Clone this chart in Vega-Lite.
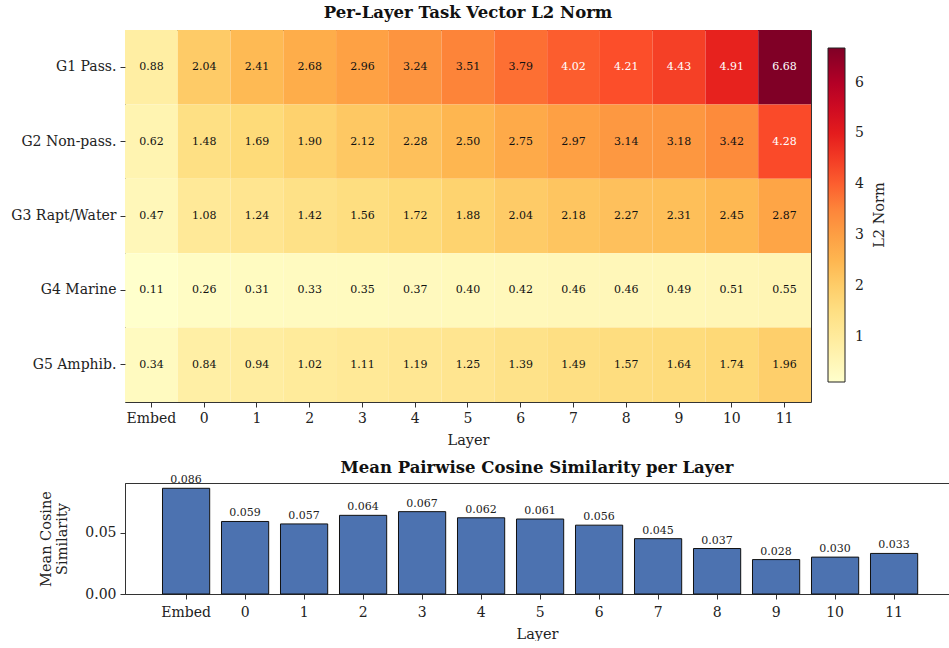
{
  "$schema": "https://vega.github.io/schema/vega-lite/v6.json",
  "autosize": {"type": "pad"},
  "padding": {"left": 10, "top": 4, "right": 0, "bottom": 0},
  "background": "white",
  "config": {
    "font": "DejaVu Serif",
    "view": {"stroke": "#333", "strokeWidth": 1},
    "axis": {
      "labelFont": "DejaVu Serif", "titleFont": "DejaVu Serif",
      "labelFontSize": 14, "titleFontSize": 14.5, "titleFontWeight": "normal",
      "labelColor": "#222", "titleColor": "#222",
      "tickColor": "#333", "domainColor": "#333",
      "tickSize": 5, "grid": false, "labelPadding": 4, "titlePadding": 5
    },
    "legend": {"labelFont": "DejaVu Serif", "titleFont": "DejaVu Serif"},
    "title": {"font": "DejaVu Serif", "fontSize": 16.5, "fontWeight": "bold", "color": "#111", "offset": 9},
    "concat": {"spacing": 12}
  },
  "datasets": {
    "heat": [
      {"group": "G1 Pass.", "layer": "Embed", "norm": 0.88},
      {"group": "G1 Pass.", "layer": "0", "norm": 2.04},
      {"group": "G1 Pass.", "layer": "1", "norm": 2.41},
      {"group": "G1 Pass.", "layer": "2", "norm": 2.68},
      {"group": "G1 Pass.", "layer": "3", "norm": 2.96},
      {"group": "G1 Pass.", "layer": "4", "norm": 3.24},
      {"group": "G1 Pass.", "layer": "5", "norm": 3.51},
      {"group": "G1 Pass.", "layer": "6", "norm": 3.79},
      {"group": "G1 Pass.", "layer": "7", "norm": 4.02},
      {"group": "G1 Pass.", "layer": "8", "norm": 4.21},
      {"group": "G1 Pass.", "layer": "9", "norm": 4.43},
      {"group": "G1 Pass.", "layer": "10", "norm": 4.91},
      {"group": "G1 Pass.", "layer": "11", "norm": 6.68},
      {"group": "G2 Non-pass.", "layer": "Embed", "norm": 0.62},
      {"group": "G2 Non-pass.", "layer": "0", "norm": 1.48},
      {"group": "G2 Non-pass.", "layer": "1", "norm": 1.69},
      {"group": "G2 Non-pass.", "layer": "2", "norm": 1.90},
      {"group": "G2 Non-pass.", "layer": "3", "norm": 2.12},
      {"group": "G2 Non-pass.", "layer": "4", "norm": 2.28},
      {"group": "G2 Non-pass.", "layer": "5", "norm": 2.50},
      {"group": "G2 Non-pass.", "layer": "6", "norm": 2.75},
      {"group": "G2 Non-pass.", "layer": "7", "norm": 2.97},
      {"group": "G2 Non-pass.", "layer": "8", "norm": 3.14},
      {"group": "G2 Non-pass.", "layer": "9", "norm": 3.18},
      {"group": "G2 Non-pass.", "layer": "10", "norm": 3.42},
      {"group": "G2 Non-pass.", "layer": "11", "norm": 4.28},
      {"group": "G3 Rapt/Water", "layer": "Embed", "norm": 0.47},
      {"group": "G3 Rapt/Water", "layer": "0", "norm": 1.08},
      {"group": "G3 Rapt/Water", "layer": "1", "norm": 1.24},
      {"group": "G3 Rapt/Water", "layer": "2", "norm": 1.42},
      {"group": "G3 Rapt/Water", "layer": "3", "norm": 1.56},
      {"group": "G3 Rapt/Water", "layer": "4", "norm": 1.72},
      {"group": "G3 Rapt/Water", "layer": "5", "norm": 1.88},
      {"group": "G3 Rapt/Water", "layer": "6", "norm": 2.04},
      {"group": "G3 Rapt/Water", "layer": "7", "norm": 2.18},
      {"group": "G3 Rapt/Water", "layer": "8", "norm": 2.27},
      {"group": "G3 Rapt/Water", "layer": "9", "norm": 2.31},
      {"group": "G3 Rapt/Water", "layer": "10", "norm": 2.45},
      {"group": "G3 Rapt/Water", "layer": "11", "norm": 2.87},
      {"group": "G4 Marine", "layer": "Embed", "norm": 0.11},
      {"group": "G4 Marine", "layer": "0", "norm": 0.26},
      {"group": "G4 Marine", "layer": "1", "norm": 0.31},
      {"group": "G4 Marine", "layer": "2", "norm": 0.33},
      {"group": "G4 Marine", "layer": "3", "norm": 0.35},
      {"group": "G4 Marine", "layer": "4", "norm": 0.37},
      {"group": "G4 Marine", "layer": "5", "norm": 0.40},
      {"group": "G4 Marine", "layer": "6", "norm": 0.42},
      {"group": "G4 Marine", "layer": "7", "norm": 0.46},
      {"group": "G4 Marine", "layer": "8", "norm": 0.46},
      {"group": "G4 Marine", "layer": "9", "norm": 0.49},
      {"group": "G4 Marine", "layer": "10", "norm": 0.51},
      {"group": "G4 Marine", "layer": "11", "norm": 0.55},
      {"group": "G5 Amphib.", "layer": "Embed", "norm": 0.34},
      {"group": "G5 Amphib.", "layer": "0", "norm": 0.84},
      {"group": "G5 Amphib.", "layer": "1", "norm": 0.94},
      {"group": "G5 Amphib.", "layer": "2", "norm": 1.02},
      {"group": "G5 Amphib.", "layer": "3", "norm": 1.11},
      {"group": "G5 Amphib.", "layer": "4", "norm": 1.19},
      {"group": "G5 Amphib.", "layer": "5", "norm": 1.25},
      {"group": "G5 Amphib.", "layer": "6", "norm": 1.39},
      {"group": "G5 Amphib.", "layer": "7", "norm": 1.49},
      {"group": "G5 Amphib.", "layer": "8", "norm": 1.57},
      {"group": "G5 Amphib.", "layer": "9", "norm": 1.64},
      {"group": "G5 Amphib.", "layer": "10", "norm": 1.74},
      {"group": "G5 Amphib.", "layer": "11", "norm": 1.96}
    ],
    "bars": [
      {"layer": "Embed", "cos": 0.086},
      {"layer": "0", "cos": 0.059},
      {"layer": "1", "cos": 0.057},
      {"layer": "2", "cos": 0.064},
      {"layer": "3", "cos": 0.067},
      {"layer": "4", "cos": 0.062},
      {"layer": "5", "cos": 0.061},
      {"layer": "6", "cos": 0.056},
      {"layer": "7", "cos": 0.045},
      {"layer": "8", "cos": 0.037},
      {"layer": "9", "cos": 0.028},
      {"layer": "10", "cos": 0.030},
      {"layer": "11", "cos": 0.033}
    ]
  },
  "vconcat": [
    {
      "title": "Per-Layer Task Vector L2 Norm",
      "width": 686,
      "height": 372,
      "data": {"name": "heat"},
      "encoding": {
        "x": {
          "field": "layer", "type": "ordinal",
          "sort": ["Embed", "0", "1", "2", "3", "4", "5", "6", "7", "8", "9", "10", "11"],
          "scale": {"paddingInner": 0, "paddingOuter": 0},
          "axis": {"labelAngle": 0, "title": "Layer", "domain": false, "titlePadding": 8}
        },
        "y": {
          "field": "group", "type": "nominal",
          "sort": ["G1 Pass.", "G2 Non-pass.", "G3 Rapt/Water", "G4 Marine", "G5 Amphib."],
          "scale": {"paddingInner": 0, "paddingOuter": 0},
          "axis": {"title": null, "domain": false}
        }
      },
      "layer": [
        {
          "mark": {"type": "rect"},
          "encoding": {
            "color": {
              "field": "norm", "type": "quantitative",
              "scale": {
                "domain": [0.11, 0.93125, 1.7525, 2.57375, 3.395, 4.21625, 5.0375, 5.85875, 6.68],
                "range": ["#ffffcc", "#ffeda0", "#fed976", "#feb24c", "#fd8d3c", "#fc4e2a", "#e31a1c", "#bd0026", "#800026"],
                "interpolate": "rgb"
              },
              "legend": {
                "title": "L2 Norm",
                "orient": "none",
                "legendX": 703,
                "legendY": 18,
                "direction": "vertical",
                "gradientLength": 334,
                "gradientThickness": 17,
                "gradientStrokeColor": "#222",
                "gradientStrokeWidth": 1,
                "values": [1, 2, 3, 4, 5, 6],
                "labelFontSize": 14,
                "labelColor": "#222",
                "labelOffset": 10,
                "labelOverlap": false,
                "titleOrient": "right",
                "titleFontSize": 14.5,
                "titleFontWeight": "normal",
                "titleColor": "#222",
                "titlePadding": 9,
                "padding": 0,
                "encode": {"title": {"update": {"angle": {"value": -90}, "baseline": {"value": "top"}}}}
              }
            }
          }
        },
        {
          "mark": {"type": "text", "fontSize": 11, "font": "DejaVu Serif"},
          "encoding": {
            "text": {"field": "norm", "type": "quantitative", "format": ".2f"},
            "color": {"condition": {"test": "datum.norm > 4", "value": "white"}, "value": "#111"}
          }
        }
      ]
    },
    {
      "title": {"text": "Mean Pairwise Cosine Similarity per Layer", "offset": -2},
      "width": 824,
      "height": 111,
      "data": {"name": "bars"},
      "encoding": {
        "x": {
          "field": "layer", "type": "ordinal",
          "sort": ["Embed", "0", "1", "2", "3", "4", "5", "6", "7", "8", "9", "10", "11"],
          "scale": {"paddingInner": 0.2, "paddingOuter": 0.583, "align": 0.545},
          "axis": {"labelAngle": 0, "title": "Layer", "labelPadding": 6, "titlePadding": 8}
        },
        "y": {
          "field": "cos", "type": "quantitative",
          "scale": {"domain": [0, 0.0903], "nice": false},
          "axis": {"values": [0, 0.05], "format": ".2f", "title": ["Mean Cosine", "Similarity"], "titlePadding": 15}
        }
      },
      "layer": [
        {"mark": {"type": "bar", "color": "#4c72b0", "stroke": "#111", "strokeWidth": 1}},
        {
          "mark": {"type": "text", "fontSize": 11, "font": "DejaVu Serif", "baseline": "bottom", "dy": -3, "color": "#222"},
          "encoding": {"text": {"field": "cos", "type": "quantitative", "format": ".3f"}}
        }
      ]
    }
  ]
}
